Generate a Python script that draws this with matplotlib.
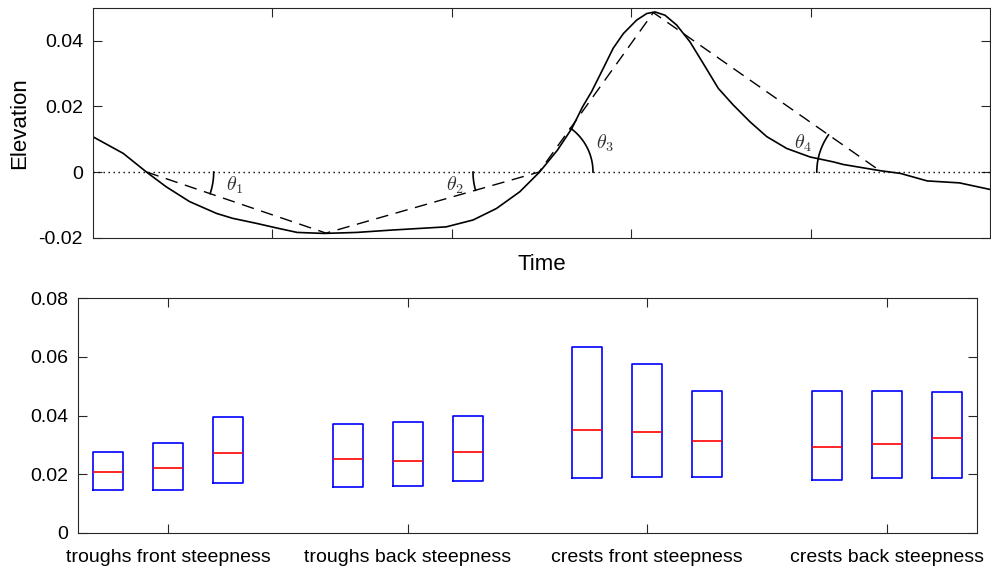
import numpy as np
import matplotlib
matplotlib.use('Agg')
import matplotlib.pyplot as plt

plt.rcParams['font.family'] = ['Liberation Sans', 'DejaVu Sans']
plt.rcParams['mathtext.fontset'] = 'cm'

#%%
# wave record (time, elevation)
t = [0.0, 0.17, 0.30, 0.41, 0.54, 0.69, 0.78, 0.91, 1.03, 1.14, 1.29, 1.47,
     1.66, 1.97, 2.12, 2.25, 2.38, 2.49, 2.59, 2.67, 2.73, 2.78, 2.845, 2.90,
     2.957, 3.031, 3.087, 3.133, 3.189, 3.254, 3.328, 3.402, 3.486, 3.570,
     3.663, 3.756, 3.867, 3.997, 4.127, 4.183, 4.39, 4.50, 4.65, 4.83, 5.0]
eta = [0.0108, 0.0057, 0.0, -0.0045, -0.0090, -0.0126, -0.0141, -0.0156,
       -0.0171, -0.0184, -0.0187, -0.0184, -0.0177, -0.0167, -0.0146, -0.0111,
       -0.0060, 0.0, 0.0067, 0.0133, 0.0199, 0.0245, 0.0316, 0.0377,
       0.0422, 0.0463, 0.0483, 0.0488, 0.0478, 0.0448, 0.0397, 0.0331, 0.0255,
       0.0204, 0.0153, 0.0108, 0.0072, 0.0046, 0.0031, 0.0023, 0.0004,
       -0.0004, -0.0027, -0.0033, -0.0053]

# zero crossings and extrema joined by the dashed triangle
t_ext = [0.301, 1.30, 2.487, 3.124, 4.397]
eta_ext = [0.0, -0.0186, 0.0, 0.0486, 0.0]

theta_labels = [r'$\theta_1$', r'$\theta_2$', r'$\theta_3$', r'$\theta_4$']
theta_pos = [(0.793, -0.0040), (2.019, -0.0040), (2.852, 0.0088), (3.956, 0.0089)]
# (vertex index, other end index, arc radius px, side of the horizontal)
theta_arcs = [(0, 1, 67, 1), (2, 1, 66, -1), (2, 3, 54, 1), (4, 3, 65, -1)]

elev_ticks = [-0.02, 0, 0.02, 0.04]
elev_ticklabels = ['-0.02', '0', '0.02', '0.04']

#%%
# steepness statistics, three boxes per group
groups = ['troughs front steepness', 'troughs back steepness',
          'crests front steepness', 'crests back steepness']
q1 = [[0.0145, 0.0146, 0.0171],
      [0.0156, 0.0158, 0.0176],
      [0.0187, 0.0191, 0.0190],
      [0.0179, 0.0187, 0.0187]]
med = [[0.0206, 0.0221, 0.0273],
       [0.0253, 0.0246, 0.0274],
       [0.0351, 0.0344, 0.0313],
       [0.0293, 0.0302, 0.0322]]
q3 = [[0.0277, 0.0306, 0.0395],
      [0.0371, 0.0377, 0.0397],
      [0.0635, 0.0575, 0.0484],
      [0.0483, 0.0483, 0.0481]]
steep_ticks = [0, 0.02, 0.04, 0.06, 0.08]
steep_ticklabels = ['0', '0.02', '0.04', '0.06', '0.08']

axcol = '#262626'

fig = plt.figure(figsize=(9.91, 5.70), dpi=100)

#%%
# top panel: elevation time series
ax1 = fig.add_axes([0.0935, 0.583, 0.9055, 0.403])
ax1.set_xlim(0, 5)
ax1.set_ylim(-0.02, 0.05)
ax1.axhline(0, color='k', lw=1.0, dashes=(1, 2.6))
ax1.plot(t, eta, color='k', lw=1.2)
ax1.plot(t_ext, eta_ext, color='k', lw=1.0, dashes=(9, 5.5))

# angle arcs drawn in pixel space so they stay circular
for (iv, io, r, side) in theta_arcs:
    v = ax1.transData.transform((t_ext[iv], eta_ext[iv]))
    o = ax1.transData.transform((t_ext[io], eta_ext[io]))
    ang = np.arctan2(o[1] - v[1], o[0] - v[0])
    start = 0.0 if side == 1 else np.pi
    if side == -1 and ang < 0:
        ang += 2 * np.pi
    a = np.linspace(start, ang, 40)
    pts = np.column_stack([v[0] + r * np.cos(a), v[1] + r * np.sin(a)])
    d = ax1.transData.inverted().transform(pts)
    ax1.plot(d[:, 0], d[:, 1], color='k', lw=1.2)

for lab, (x, y) in zip(theta_labels, theta_pos):
    ax1.text(x, y, lab, fontsize=14.5, color='#333333', ha='center', va='center')

ax1.set_xticks([1, 2, 3, 4])
ax1.set_xticklabels([])
ax1.set_yticks(elev_ticks)
ax1.set_yticklabels(elev_ticklabels)
ax1.set_xlabel('Time', fontsize=16)
ax1.xaxis.set_label_coords(0.5, -0.072)
ax1.set_ylabel('Elevation', fontsize=16)
ax1.yaxis.set_label_coords(-0.07, 0.5)

#%%
# bottom panel: box plots of steepness
ax2 = fig.add_axes([0.079, 0.0654, 0.9066, 0.4113])
stats = []
pos = []
offs = [-0.25, 0.0, 0.25]
for g in range(len(groups)):
    for k in range(3):
        stats.append(dict(med=med[g][k], q1=q1[g][k], q3=q3[g][k],
                          whislo=q1[g][k], whishi=q3[g][k], fliers=[]))
        pos.append(g + 1 + offs[k])
ax2.bxp(stats, positions=pos, widths=0.125, showcaps=False, showfliers=False,
        boxprops=dict(color='#0000ff', lw=1.2),
        whiskerprops=dict(color='#0000ff', lw=1.2),
        medianprops=dict(color='#ff0000', lw=1.2))
ax2.set_xlim(0.624, 4.376)
ax2.set_ylim(0, 0.08)
ax2.set_xticks([1, 2, 3, 4])
ax2.set_xticklabels(groups)
ax2.set_yticks(steep_ticks)
ax2.set_yticklabels(steep_ticklabels)

for ax in (ax1, ax2):
    ax.tick_params(direction='in', length=6.8, width=0.8, colors=axcol,
                   labelcolor='k', labelsize=14, top=True, right=True)
    ax.tick_params(axis='y', pad=7)
    ax.tick_params(axis='x', pad=12)
    for s in ax.spines.values():
        s.set_color(axcol)
        s.set_linewidth(0.8)

fig.savefig('out.png', dpi=100)
